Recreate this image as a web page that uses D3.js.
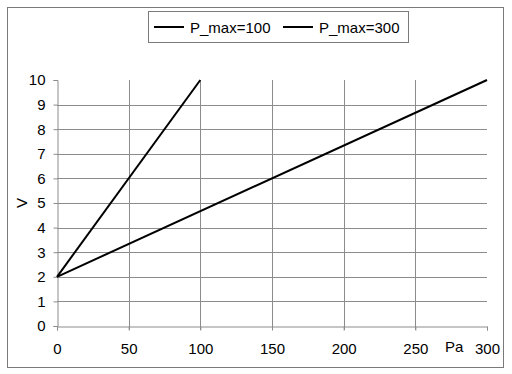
<!DOCTYPE html>
<html>
<head>
<meta charset="utf-8">
<style>
  body { margin: 0; background: #fff; }
  text { font-family: "Liberation Sans", Arial, sans-serif; font-size: 15px; fill: #000; }
  .grid { stroke: #8c8c8c; stroke-width: 1; }
</style>
</head>
<body>
<div id="chart"></div>
<script src="https://d3js.org/d3.v7.min.js"></script>
<script>
// data
var seriesNames = ["P_max=100", "P_max=300"];
var series100 = [{p: 0, v: 2}, {p: 100, v: 10}];
var series300 = [{p: 0, v: 2}, {p: 300, v: 10}];
var xTicks = [0, 50, 100, 150, 200, 250, 300];
var yTicks = [0, 1, 2, 3, 4, 5, 6, 7, 8, 9, 10];

var width = 512, height = 374;

var svg = d3.select("#chart").append("svg")
    .attr("width", width).attr("height", height);

// outer frame
svg.append("rect")
    .attr("x", 7.5).attr("y", 7.5).attr("width", 496).attr("height", 360)
    .attr("fill", "none").attr("stroke", "#7a7a7a");

var x = d3.scaleLinear().domain([0, 300]).range([57, 487]);
var y = d3.scaleLinear().domain([0, 10]).range([326, 80]);

// horizontal gridlines (no line at top value)
svg.append("g").selectAll("line")
    .data(yTicks.filter(function (d) { return d > 0 && d < 10; }))
    .enter().append("line")
    .attr("class", "grid")
    .attr("x1", x(0)).attr("x2", x(300))
    .attr("y1", function (d) { return Math.round(y(d)) + 0.5; })
    .attr("y2", function (d) { return Math.round(y(d)) + 0.5; });

// vertical gridlines
svg.append("g").selectAll("line")
    .data(xTicks.filter(function (d) { return d > 0 && d < 300; }))
    .enter().append("line")
    .attr("class", "grid")
    .attr("x1", function (d) { return Math.round(x(d)) + 0.5; })
    .attr("x2", function (d) { return Math.round(x(d)) + 0.5; })
    .attr("y1", y(10)).attr("y2", y(0) + 4);

// y axis
var yAxis = svg.append("g")
    .attr("transform", "translate(" + (Math.round(x(0)) + 0.5) + ",0)")
    .call(d3.axisLeft(y).tickValues(yTicks).tickSize(4).tickPadding(8).tickFormat(d3.format("d")));
// x axis
var xAxis = svg.append("g")
    .attr("transform", "translate(0," + (Math.round(y(0)) + 0.5) + ")")
    .call(d3.axisBottom(x).tickValues(xTicks).tickSize(4).tickPadding(13).tickFormat(d3.format("d")));

[yAxis, xAxis].forEach(function (g) {
  g.select(".domain").attr("stroke", "#8c8c8c");
  g.selectAll(".tick line").attr("stroke", "#8c8c8c");
  g.selectAll(".tick text").attr("font-size", 15).attr("fill", "#000")
    .attr("font-family", "'Liberation Sans', Arial, sans-serif");
});

// axis titles
svg.append("text").attr("x", 445).attr("y", 352).text("Pa");
svg.append("text")
    .attr("transform", "translate(27,203) rotate(-90)")
    .attr("text-anchor", "middle").text("V");

// lines
var line = d3.line().x(function (d) { return x(d.p); }).y(function (d) { return y(d.v); });
[series100, series300].forEach(function (s) {
  svg.append("path").datum(s)
    .attr("d", line)
    .attr("fill", "none").attr("stroke", "#000").attr("stroke-width", 2);
});

// legend
var legend = svg.append("g");
legend.append("rect")
    .attr("x", 148.5).attr("y", 11.5).attr("width", 260).attr("height", 31)
    .attr("fill", "#fff").attr("stroke", "#7a7a7a");
var legendX = [154, 283];
seriesNames.forEach(function (name, i) {
  legend.append("line")
      .attr("x1", legendX[i]).attr("x2", legendX[i] + 30)
      .attr("y1", 27).attr("y2", 27)
      .attr("stroke", "#000").attr("stroke-width", 2);
  legend.append("text")
      .attr("x", legendX[i] + 36).attr("y", 32.5)
      .attr("font-size", 15.5)
      .text(name);
});
</script>
</body>
</html>
